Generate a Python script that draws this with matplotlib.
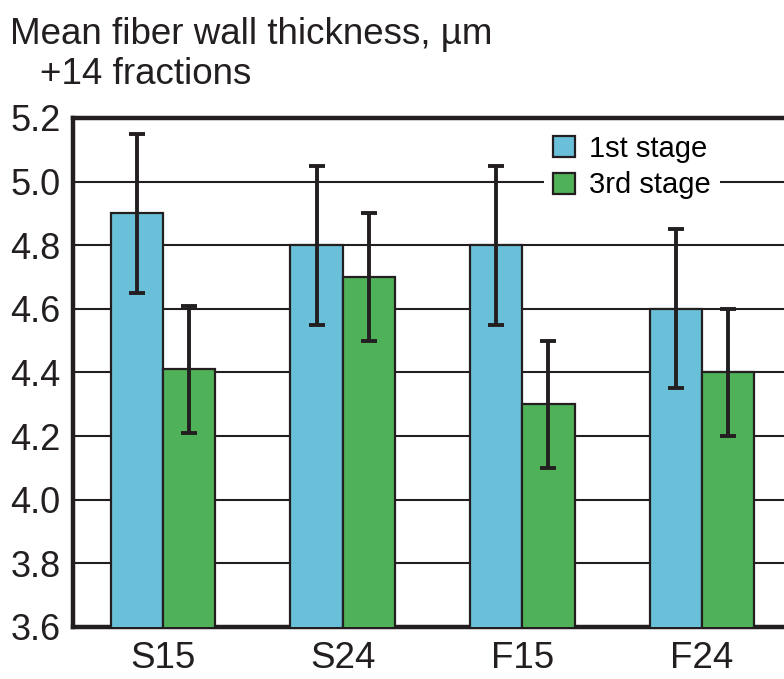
import numpy as np
import matplotlib.pyplot as plt

plt.rcParams['font.family'] = ['Liberation Sans', 'DejaVu Sans']

# mean fiber wall thickness (um), +14 fractions
samples = ['S15', 'S24', 'F15', 'F24']
stage1 = [4.9, 4.8, 4.8, 4.6]
stage1_err = [0.25, 0.25, 0.25, 0.25]
stage3 = [4.41, 4.7, 4.3, 4.4]
stage3_err = [0.2, 0.2, 0.2, 0.2]
yticks = [3.6, 3.8, 4.0, 4.2, 4.4, 4.6, 4.8, 5.0, 5.2]

blue = '#6ac0d8'
green = '#4fb258'
dark = '#231f20'

fig = plt.figure(figsize=(7.84, 6.79), dpi=100)
# axes run a bit past the right edge of the figure
ax = fig.add_axes([73 / 784, 1 - 627 / 679, 719 / 784, 509 / 679])

x = np.arange(len(samples))
w = 0.29
err_kw = dict(ecolor=dark, elinewidth=2.8, capsize=5.5, capthick=2.8)

ax.bar(x - w / 2, stage1, w, color=blue, edgecolor=dark,
       linewidth=1.6, label='1st stage', zorder=3,
       yerr=stage1_err, error_kw=err_kw)
ax.bar(x + w / 2, stage3, w, color=green, edgecolor=dark,
       linewidth=1.6, label='3rd stage', zorder=3,
       yerr=stage3_err, error_kw=err_kw)

ax.set_xlim(-0.5, 3.5)
ax.set_ylim(3.6, 5.2)
ax.set_yticks(yticks)
ax.set_yticklabels(['%.1f' % t for t in yticks])
ax.set_xticks(x)
ax.set_xticklabels(samples)
ax.tick_params(axis='both', length=0, colors=dark)
ax.tick_params(axis='x', pad=10, labelsize=26.5)
ax.tick_params(axis='y', pad=9, labelsize=26)

ax.yaxis.grid(True, color=dark, linewidth=1.5, zorder=0)
ax.set_axisbelow(True)

for side in ['left', 'top', 'bottom']:
    ax.spines[side].set_linewidth(3.2)
    ax.spines[side].set_color(dark)
ax.spines['right'].set_visible(False)

leg = ax.legend(loc='upper left', bbox_to_anchor=(0.635, 1.013), fontsize=21,
                frameon=True, fancybox=False, framealpha=1,
                handlelength=0.75, handleheight=0.75, handletextpad=0.5,
                labelspacing=0.3, borderpad=0.3)
leg.get_frame().set_edgecolor('none')
leg.get_frame().set_facecolor('white')
for h in leg.legend_handles:
    h.set_linewidth(1.6)

fig.text(10 / 784, 1 - 44 / 679, 'Mean fiber wall thickness, µm', fontsize=26.5,
         color=dark)
fig.text(40 / 784, 1 - 84 / 679, '+14 fractions', fontsize=26.5, color=dark)

fig.savefig('out.png', dpi=100)
